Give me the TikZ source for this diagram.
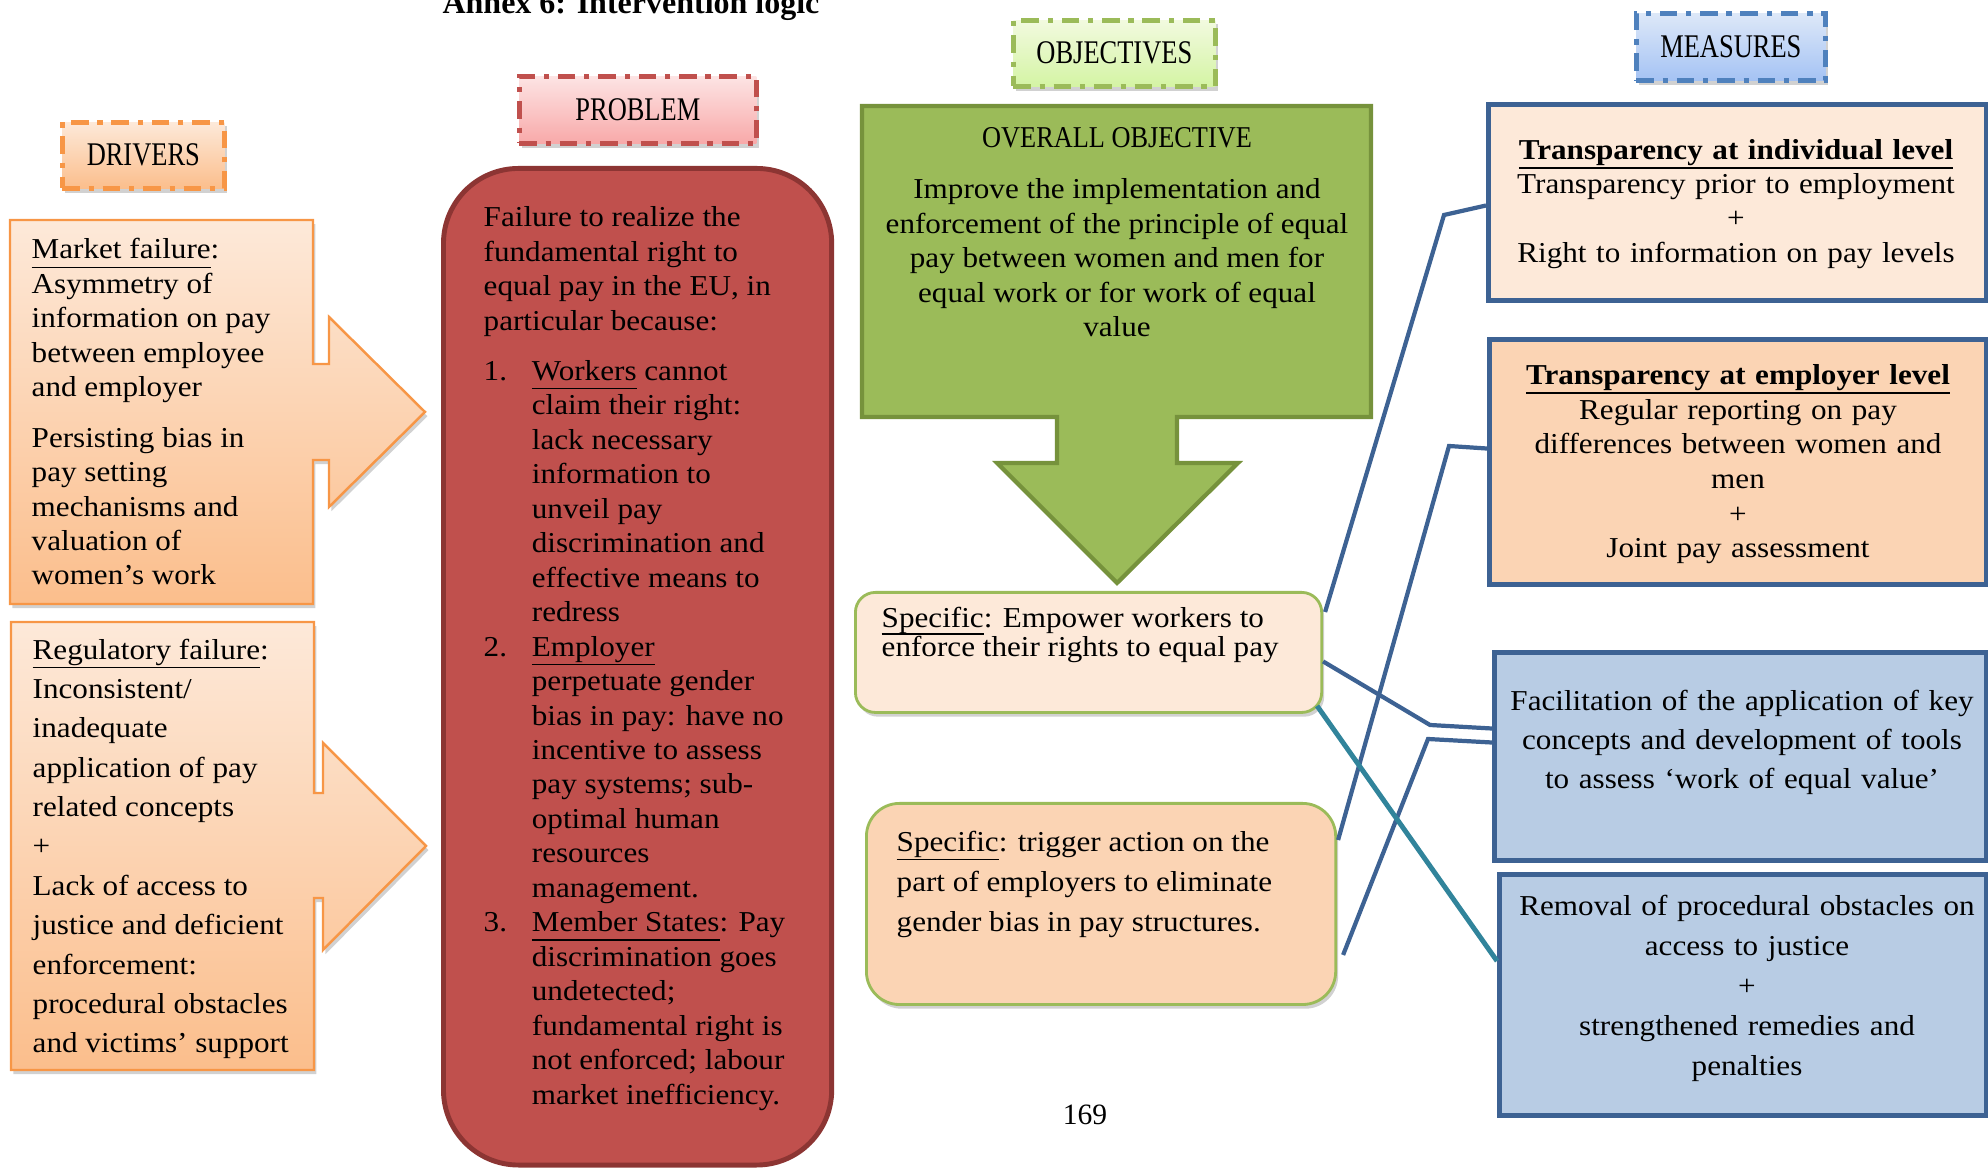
\documentclass[tikz,border=0pt]{standalone}
\usepackage{fontspec}
\setmainfont{Liberation Serif}
\newfontfamily\bodyfont[FakeStretch=1.08]{Liberation Serif}
\newfontfamily\headfont[FakeStretch=0.87]{Liberation Serif}
\newfontfamily\tagfont[FakeStretch=0.8]{Liberation Serif}
\usetikzlibrary{shadows,calc}
\lineskiplimit=-20pt

\definecolor{drvline}{HTML}{F79646}
\definecolor{drvtop}{HTML}{FDE9D9}
\definecolor{drvbot}{HTML}{FBBE8C}
\definecolor{probfill}{HTML}{C0504D}
\definecolor{probline}{HTML}{8C3533}
\definecolor{problbltop}{HTML}{FDE4E4}
\definecolor{problblbot}{HTML}{F8A9A9}
\definecolor{objline}{HTML}{9BBB59}
\definecolor{objtop}{HTML}{F2FADF}
\definecolor{objbot}{HTML}{D4F4A4}
\definecolor{objdark}{HTML}{76923C}
\definecolor{measline}{HTML}{4F81BD}
\definecolor{meastop}{HTML}{DDE8F8}
\definecolor{measbot}{HTML}{A5C3F4}
\definecolor{boxline}{HTML}{3D6293}
\definecolor{peach}{HTML}{FDE9D9}
\definecolor{apricot}{HTML}{FBD4B4}
\definecolor{paleblue}{HTML}{B8CCE4}
\definecolor{linkteal}{HTML}{31849B}

\newcommand{\pnum}[1]{\makebox[13.7pt][l]{#1}}
\newcommand{\pind}{\hspace*{13.7pt}}
\newcommand{\ulin}[1]{\underline{\raisebox{0pt}[\height][0.12em]{#1}}}
\newcommand{\ulthin}[1]{\underline{\raisebox{0pt}[\height][0.04em]{#1}}}

\tikzset{
  shad/.style={drop shadow={shadow xshift=0.7pt, shadow yshift=-1.2pt, opacity=0.3, fill=black!60}},
  tag/.style={line width=1.3pt, dash pattern=on 5pt off 2.5pt on 1.5pt off 2.5pt,
    font=\tagfont\fontsize{9.4}{10}\selectfont, inner sep=0pt, anchor=north west, shad},
  txt/.style={font=\bodyfont\fontsize{8.2}{9.8}\selectfont, inner sep=0pt, align=left},
  spec/.style={draw=objline, line width=0.8pt, anchor=north west, shad},
  meas/.style={draw=boxline, line width=1.4pt, anchor=north west},
  mtxt/.style={txt, align=center, anchor=north},
  link/.style={draw=boxline, line width=1.2pt},
}

\begin{document}
\begin{tikzpicture}[x=0.01cm, y=-0.01cm]
  \useasboundingbox (0,0) rectangle (1988,1168);

  % title and page number
  \node[font=\fontsize{9.1}{11}\selectfont\bfseries, anchor=base] (title) at (631,14) {Annex 6: Intervention logic};
  \node[font=\fontsize{8.4}{10}\selectfont, anchor=base] (pg) at (1085,1124) {169};

  % column headings
  \node[tag, draw=drvline, top color=drvtop, bottom color=drvbot, minimum width=1.62cm, minimum height=0.66cm] (drivers) at (60,120) {DRIVERS};
  \node[tag, draw=probfill, top color=problbltop, bottom color=problblbot, minimum width=2.37cm, minimum height=0.67cm] (problem) at (517,74) {PROBLEM};
  \node[tag, draw=objline, top color=objtop, bottom color=objbot, minimum width=2.02cm, minimum height=0.66cm] (objectives) at (1011,18) {OBJECTIVES};
  \node[tag, draw=measline, top color=meastop, bottom color=measbot, minimum width=1.89cm, minimum height=0.67cm] (measures) at (1634,11) {MEASURES};

  % drivers: boxes with arrows
  \shadedraw[shad, top color=drvtop, bottom color=drvbot, draw=drvline, line width=0.7pt]
    (10,220) -- (313,220) -- (313,364) -- (329,364) -- (329,317) -- (425,412) -- (329,507)
    -- (329,460) -- (313,460) -- (313,604) -- (10,604) -- cycle;
  \shadedraw[shad, top color=drvtop, bottom color=drvbot, draw=drvline, line width=0.7pt]
    (11,622) -- (314,622) -- (314,793) -- (323,793) -- (323,743) -- (426,846) -- (323,950)
    -- (323,898) -- (314,898) -- (314,1070) -- (11,1070) -- cycle;
  \node[txt, anchor=north west] (market) at (31,238) {\ulin{Market failure}:\\
    Asymmetry of\\information on pay\\between employee\\and employer\\[4.5pt]
    Persisting bias in\\pay setting\\mechanisms and\\valuation of\\women’s work};
  \node[txt, anchor=north west, font=\bodyfont\fontsize{8.2}{11.2}\selectfont] (regul) at (32,638) {\ulin{Regulatory failure}:\\
    Inconsistent/\\inadequate\\application of pay\\related concepts\\+\\Lack of access to\\
    justice and deficient\\enforcement:\\procedural obstacles\\and victims’ support};

  % problem
  \node[draw=probline, fill=probfill, line width=1.4pt, rounded corners=0.75cm, anchor=north west,
    minimum width=3.88cm, minimum height=9.96cm] (prob) at (441,166) {};
  \node[txt, anchor=north west] (probtxt) at (483,206) {Failure to realize the\\
    fundamental right to\\equal pay in the EU, in\\particular because:\\[4.5pt]
    \pnum{1.}\ulin{Workers} cannot\\\pind claim their right:\\\pind lack necessary\\
    \pind information to\\\pind unveil pay\\\pind discrimination and\\\pind effective means to\\
    \pind redress\\
    \pnum{2.}\ulin{Employer}\\\pind perpetuate gender\\\pind bias in pay: have no\\
    \pind incentive to assess\\\pind pay systems; sub-\\\pind optimal human\\\pind resources\\
    \pind management.\\
    \pnum{3.}\ulin{Member States}: Pay\\\pind discrimination goes\\\pind undetected;\\
    \pind fundamental right is\\\pind not enforced; labour\\\pind market inefficiency.};

  % overall objective arrow
  \filldraw[fill=objline, draw=objdark, line width=1.2pt]
    (862,106) -- (1371,106) -- (1371,417) -- (1177,417) -- (1177,463) -- (1238,463)
    -- (1117,583) -- (997,463) -- (1057,463) -- (1057,417) -- (862,417) -- cycle;
  \node[font=\headfont\fontsize{8.6}{10}\selectfont, anchor=base] (overall) at (1117,148) {OVERALL OBJECTIVE};
  \node[txt, align=center, anchor=north] (overtxt) at (1117,178) {Improve the implementation and\\
    enforcement of the principle of equal\\pay between women and men for\\
    equal work or for work of equal\\value};

  % specific objectives
  \node[spec, fill=peach, rounded corners=0.2cm, minimum width=4.66cm, minimum height=1.2cm] (s1) at (854,591) {};
  \node[txt, anchor=north west, font=\bodyfont\fontsize{8.2}{8.0}\selectfont] (s1txt) at (881,607)
    {\ulthin{Specific}: Empower workers to\\enforce their rights to equal pay};
  \node[spec, fill=apricot, rounded corners=0.33cm, minimum width=4.69cm, minimum height=2.01cm] (s2) at (865,802) {};
  \node[txt, anchor=north west, font=\bodyfont\fontsize{8.2}{11.4}\selectfont] (s2txt) at (896,830)
    {\ulin{Specific}: trigger action on the\\part of employers to eliminate\\gender bias in pay structures.};

  % measures
  \node[meas, fill=peach, minimum width=4.98cm, minimum height=1.96cm] (m1) at (1486,102) {};
  \node[mtxt, text width=4.8cm, font=\bodyfont\fontsize{8.2}{9.7}\selectfont] (m1txt) at (1736,139)
    {\ulin{\textbf{Transparency at individual level}}\\Transparency prior to employment\\+\\
    Right to information on pay levels};
  \node[meas, fill=apricot, minimum width=4.97cm, minimum height=2.45cm] (m2) at (1487,337) {};
  \node[mtxt, text width=4.8cm, font=\bodyfont\fontsize{8.2}{9.85}\selectfont] (m2txt) at (1738,364)
    {\ulin{\textbf{Transparency at employer level}}\\Regular reporting on pay\\
    differences between women and\\men\\+\\Joint pay assessment};
  \node[meas, fill=paleblue, minimum width=4.92cm, minimum height=2.08cm] (m3) at (1492,650) {};
  \node[mtxt, text width=4.8cm, font=\bodyfont\fontsize{8.2}{11.1}\selectfont] (m3txt) at (1742,689)
    {Facilitation of the application of key\\concepts and development of tools\\
    to assess ‘work of equal value’};
  \node[meas, fill=paleblue, minimum width=4.87cm, minimum height=2.41cm] (m4) at (1497,872) {};
  \node[mtxt, text width=4.8cm, font=\bodyfont\fontsize{8.2}{11.4}\selectfont] (m4txt) at (1747,894)
    {Removal of procedural obstacles on\\access to justice\\+\\strengthened remedies and\\penalties};

  % links objectives -> measures
  \coordinate (k1) at (1444,215);
  \coordinate (k2) at (1449,446);
  \coordinate (k3) at (1430,725);
  \coordinate (k4) at (1428,739);
  \draw[link] ($(s1.north east)+(2,21)$) -- (k1) -- ($(m1.west)+(0,3)$);
  \draw[link] ($(s2.north east)+(1,38)$) -- (k2) -- ($(m2.west)+(0,-13.5)$);
  \draw[link] ($(s1.east)+(0,9)$) -- (k3) -- ($(m3.west)+(0,-28)$);
  \draw[link] ($(s2.east)+(6,51)$) -- (k4) -- ($(m3.west)+(0,-14)$);
  \draw[link, draw=linkteal, line width=1.4pt] ($(s1.south east)+(-6,-8)$) -- ($(m4.west)+(0,-34)$);
\end{tikzpicture}
\end{document}
